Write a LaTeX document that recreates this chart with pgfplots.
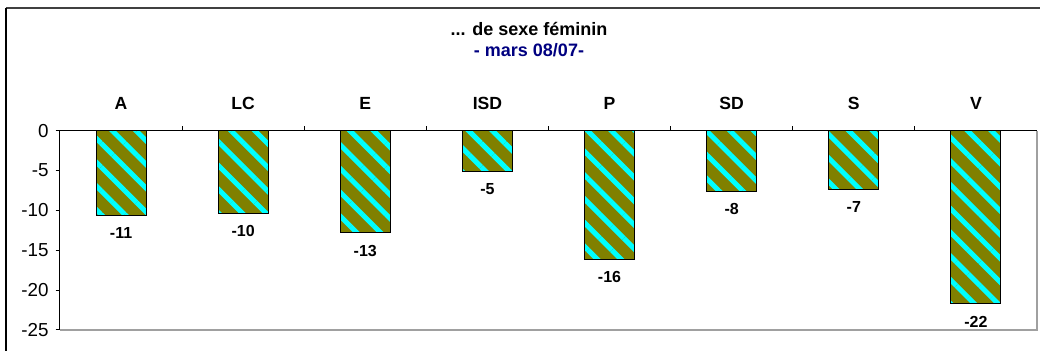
\documentclass[border=0pt]{standalone}
\usepackage{fontspec}
\setmainfont{Liberation Sans}
\usepackage{pgfplots}
\pgfplotsset{compat=1.18}
\usetikzlibrary{patterns.meta}

\definecolor{barolive}{RGB}{128,128,0}
\definecolor{barcyan}{RGB}{0,255,255}
\definecolor{titlenavy}{RGB}{0,0,128}
\definecolor{framegray}{RGB}{64,64,64}
\definecolor{plotgray}{RGB}{160,160,160}

\begin{document}
\begin{tikzpicture}
\path[use as bounding box] (-30pt,-10.5pt) rectangle (490pt,165pt);
% chart frame
\draw[framegray, line width=1pt] (-27pt,161pt) -- (492pt,161pt);
\draw[black, line width=0.6pt] (-27pt,-12pt) -- (-27pt,161pt);

\begin{axis}[
    at={(0,0)}, anchor=south west,
    scale only axis,
    width=488.5pt, height=99.65pt,
    xmin=-0.5, xmax=7.5,
    ymin=-25, ymax=0,
    axis line style={draw=none},
    xtick={0.5,1.5,...,6.5},
    xticklabels={},
    xtick pos=upper,
    xtick align=inside,
    ytick={-25,-20,...,0},
    ytick pos=left,
    ytick align=outside,
    major tick length=2.2pt,
    tick style={black, line width=0.5pt},
    yticklabel style={font=\fontsize{9.4}{10}\selectfont},
    /pgf/number format/assume math mode=true,
    ybar, bar width=25pt, bar shift=0pt,
    clip=false,
]
% solid olive ground of the bars
\addplot[draw=none, fill=barolive]
coordinates {
    (0,-10.6) (1,-10.4) (2,-12.8) (3,-5.1)
    (4,-16.1) (5,-7.6) (6,-7.4) (7,-21.7)
};
% cyan stripes, outline and value labels
\addplot[draw=black, line width=0.5pt,
    pattern={Lines[angle=-45, distance=8.4pt, line width=2.5pt]}, pattern color=barcyan,
    nodes near coords, point meta=explicit symbolic,
    every node near coord/.append style={font=\bfseries\fontsize{8}{9}\selectfont, anchor=north, yshift=-2.5pt}]
coordinates {
    (0,-10.6)[-11]
    (1,-10.4)[-10]
    (2,-12.8)[-13]
    (3,-5.1)[-5]
    (4,-16.1)[-16]
    (5,-7.6)[-8]
    (6,-7.4)[-7]
    (7,-21.7)[-22]
};

% plot area border
\draw[plotgray, line width=0.8pt] (rel axis cs:0,0) -- (rel axis cs:1,0) -- (rel axis cs:1,1);
\draw[black, line width=0.5pt] (rel axis cs:0,0) -- (rel axis cs:0,1) -- (rel axis cs:1,1);

% category names above the zero line
\node[anchor=base, yshift=10.5pt, font=\bfseries\fontsize{8.8}{9}\selectfont] at (axis cs:0,0) {A};
\node[anchor=base, yshift=10.5pt, font=\bfseries\fontsize{8.8}{9}\selectfont] at (axis cs:1,0) {LC};
\node[anchor=base, yshift=10.5pt, font=\bfseries\fontsize{8.8}{9}\selectfont] at (axis cs:2,0) {E};
\node[anchor=base, yshift=10.5pt, font=\bfseries\fontsize{8.8}{9}\selectfont] at (axis cs:3,0) {ISD};
\node[anchor=base, yshift=10.5pt, font=\bfseries\fontsize{8.8}{9}\selectfont] at (axis cs:4,0) {P};
\node[anchor=base, yshift=10.5pt, font=\bfseries\fontsize{8.8}{9}\selectfont] at (axis cs:5,0) {SD};
\node[anchor=base, yshift=10.5pt, font=\bfseries\fontsize{8.8}{9}\selectfont] at (axis cs:6,0) {S};
\node[anchor=base, yshift=10.5pt, font=\bfseries\fontsize{8.8}{9}\selectfont] at (axis cs:7,0) {V};
\end{axis}

% title
\node[anchor=base, font=\bfseries\fontsize{9}{10}\selectfont] at (234.5pt,147pt) {... de sexe féminin};
\node[anchor=base, font=\bfseries\fontsize{9}{10}\selectfont, text=titlenavy] at (234.5pt,136.5pt) {- mars 08/07-};
\end{tikzpicture}
\end{document}
